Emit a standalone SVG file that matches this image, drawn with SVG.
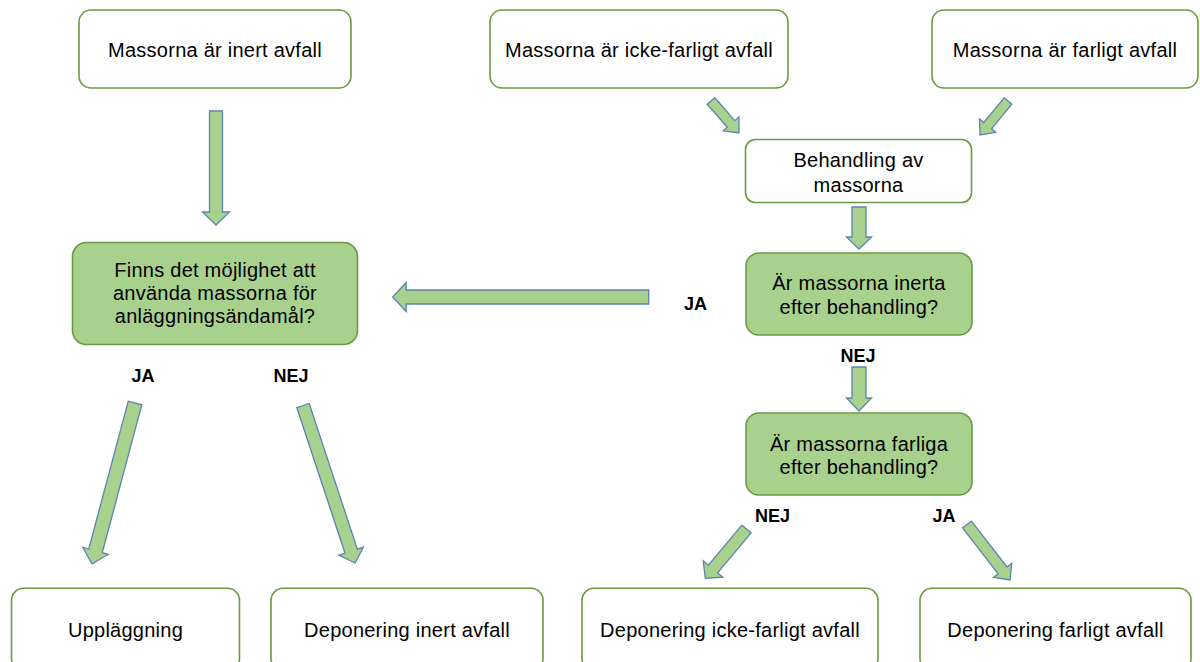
<svg xmlns="http://www.w3.org/2000/svg" width="1200" height="662" viewBox="0 0 1200 662">
<style>
.box{fill:#ffffff;stroke:#6b9a42;stroke-width:1.6}
.gbox{fill:#a9d18e;stroke:#6b9a42;stroke-width:1.6}
.t{font-family:"Liberation Sans",Arial,sans-serif;font-size:20px;letter-spacing:0.25px;fill:#000;text-anchor:middle}
.lbl{font-family:"Liberation Sans",Arial,sans-serif;font-size:18px;font-weight:bold;fill:#000;text-anchor:middle}
.arr{fill:#a9d18e;stroke:#5b84b1;stroke-width:1.3;stroke-linejoin:miter}
</style>
<rect width="1200" height="662" fill="#ffffff"/>
<g id="connectors">
<polygon class="arr" transform="translate(216,111) rotate(90)" points="0,-6.5 101,-6.5 101,-13.5 114,0 101,13.5 101,6.5 0,6.5"/>
<polygon class="arr" transform="translate(711,101) rotate(48.8)" points="0,-5 30.5,-5 30.5,-10.5 42.5,0 30.5,10.5 30.5,5 0,5"/>
<polygon class="arr" transform="translate(1008,101) rotate(129.5)" points="0,-5 32,-5 32,-10.5 44,0 32,10.5 32,5 0,5"/>
<polygon class="arr" transform="translate(859,207) rotate(90)" points="0,-7 30,-7 30,-12.5 42,0 30,12.5 30,7 0,7"/>
<polygon class="arr" transform="translate(648.7,297) rotate(180)" points="0,-7 242.5,-7 242.5,-14.5 256,0 242.5,14.5 242.5,7 0,7"/>
<polygon class="arr" transform="translate(859,367) rotate(90)" points="0,-7 31,-7 31,-12.5 44,0 31,12.5 31,7 0,7"/>
<polygon class="arr" transform="translate(135,403) rotate(104.95)" points="0,-7 153,-7 153,-13.3 166.6,0 153,13.3 153,7 0,7"/>
<polygon class="arr" transform="translate(303,405.5) rotate(71.7)" points="0,-6.5 153.4,-6.5 153.4,-12.9 165.9,0 153.4,12.9 153.4,6.5 0,6.5"/>
<polygon class="arr" transform="translate(746.5,529) rotate(129.9)" points="0,-6 52.2,-6 52.2,-12.8 64.2,0 52.2,12.8 52.2,6 0,6"/>
<polygon class="arr" transform="translate(967,524.5) rotate(52.2)" points="0,-5.6 58.1,-5.6 58.1,-11.5 70.2,0 58.1,11.5 58.1,5.6 0,5.6"/>
<text class="lbl" x="695.5" y="310">JA</text>
<text class="lbl" x="143" y="382">JA</text>
<text class="lbl" x="291" y="382">NEJ</text>
<text class="lbl" x="858" y="362">NEJ</text>
<text class="lbl" x="772.5" y="522">NEJ</text>
<text class="lbl" x="944" y="522">JA</text>
</g>
<g id="n-inert">
<rect class="box" x="79" y="10" width="272" height="78" rx="12"/>
<text class="t" x="215" y="57">Massorna är inert avfall</text>
</g>
<g id="n-ickefarligt">
<rect class="box" x="490" y="10" width="298" height="78" rx="12"/>
<text class="t" x="639" y="57">Massorna är icke-farligt avfall</text>
</g>
<g id="n-farligt">
<rect class="box" x="932" y="10" width="266" height="78" rx="12"/>
<text class="t" x="1065" y="57">Massorna är farligt avfall</text>
</g>
<g id="n-behandling">
<rect class="box" x="745.5" y="139.5" width="226" height="63" rx="10"/>
<text class="t" x="858.5" y="167.3">Behandling av</text>
<text class="t" x="858.5" y="192.3">massorna</text>
</g>
<g id="n-finns">
<rect class="gbox" x="72.5" y="242.5" width="285" height="102" rx="14"/>
<text class="t" x="215" y="276.5">Finns det möjlighet att</text>
<text class="t" x="215" y="299.5">använda massorna för</text>
<text class="t" x="215" y="322.5">anläggningsändamål?</text>
</g>
<g id="n-inerta">
<rect class="gbox" x="746" y="253" width="226" height="82" rx="13"/>
<text class="t" x="859" y="290">Är massorna inerta</text>
<text class="t" x="859" y="313.5">efter behandling?</text>
</g>
<g id="n-farliga">
<rect class="gbox" x="746" y="413" width="226" height="82" rx="13"/>
<text class="t" x="859" y="450.7">Är massorna farliga</text>
<text class="t" x="859" y="474">efter behandling?</text>
</g>
<g id="n-upplaggning">
<rect class="box" x="11.5" y="588.3" width="228" height="82" rx="12"/>
<text class="t" x="125.5" y="636.7">Uppläggning</text>
</g>
<g id="n-dep-inert">
<rect class="box" x="271" y="588.3" width="272" height="82" rx="12"/>
<text class="t" x="407" y="636.7">Deponering inert avfall</text>
</g>
<g id="n-dep-ickefarligt">
<rect class="box" x="582" y="588.3" width="296" height="82" rx="12"/>
<text class="t" x="730" y="636.7">Deponering icke-farligt avfall</text>
</g>
<g id="n-dep-farligt">
<rect class="box" x="920" y="588.3" width="271" height="82" rx="12"/>
<text class="t" x="1055.5" y="636.7">Deponering farligt avfall</text>
</g>
</svg>
